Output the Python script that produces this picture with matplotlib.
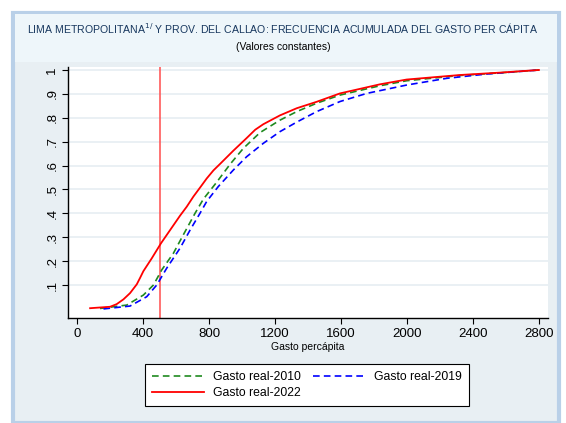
import matplotlib
matplotlib.use("Agg")
import matplotlib.pyplot as plt
from matplotlib.patches import Rectangle

plt.rcParams['font.family'] = ['Liberation Sans', 'DejaVu Sans']

# cumulative frequency curves (gasto, share)
gasto_2010 = [139, 301, 402, 463, 513, 584, 644, 715, 766, 846, 927, 1008, 1109,
              1230, 1332, 1453, 1594, 1836, 1998, 2321, 2564, 2800]
frec_2010 = [0.002, 0.016, 0.058, 0.1, 0.163, 0.233, 0.31, 0.4, 0.46, 0.53, 0.605,
             0.672, 0.738, 0.79, 0.826, 0.861, 0.895, 0.934, 0.955, 0.977, 0.988, 1.0]

gasto_2019 = [160, 321, 422, 483, 543, 624, 685, 745, 786, 856, 947, 1028, 1129,
              1230, 1332, 1453, 1594, 1756, 1998, 2240, 2482, 2800]
frec_2019 = [0.0, 0.012, 0.051, 0.1, 0.17, 0.254, 0.33, 0.4, 0.45, 0.512, 0.581,
             0.637, 0.693, 0.742, 0.782, 0.826, 0.868, 0.902, 0.937, 0.965, 0.983, 1.0]

gasto_2022 = [79, 200, 240, 281, 321, 362, 382, 402, 453, 509, 564, 624, 665, 705,
              750, 786, 827, 867, 947, 1028, 1080, 1129, 1230, 1332, 1453, 1594,
              1836, 1998, 2321, 2564, 2800]
frec_2022 = [0.003, 0.009, 0.02, 0.04, 0.066, 0.103, 0.13, 0.158, 0.212, 0.275, 0.33,
             0.39, 0.428, 0.47, 0.512, 0.546, 0.58, 0.607, 0.662, 0.715, 0.75, 0.773,
             0.81, 0.84, 0.867, 0.902, 0.94, 0.96, 0.979, 0.989, 1.0]

linea_pobreza = 503

x_ticks = [0, 400, 800, 1200, 1600, 2000, 2400, 2800]
y_ticks = [0.1, 0.2, 0.3, 0.4, 0.5, 0.6, 0.7, 0.8, 0.9, 1.0]
y_labels = ['.1', '.2', '.3', '.4', '.5', '.6', '.7', '.8', '.9', '1']

fig = plt.figure(figsize=(5.66, 4.23), dpi=100)
fig.patch.set_facecolor('white')

# outer frame + title band
fig.patches.append(Rectangle((13 / 566, 0), 546 / 566, 1 - 13 / 423,
                             transform=fig.transFigure, facecolor='#e8eff3',
                             edgecolor='#b9d0e8', linewidth=3, zorder=-2))
fig.patches.append(Rectangle((15 / 566, 1 - 62 / 423), 542 / 566, 48 / 423,
                             transform=fig.transFigure, facecolor='#eef6fa',
                             edgecolor='none', zorder=-1))

fig.text(0.5, 1 - 28 / 423,
         r'LIMA METROPOLITANA$^{1/}$ Y PROV. DEL CALLAO: FRECUENCIA ACUMULADA DEL GASTO PER CÁPITA',
         ha='center', va='center', fontsize=7.6, color='#17375e')
fig.text(0.5, 1 - 47 / 423, '(Valores constantes)', ha='center', va='center',
         fontsize=7.5)

ax = fig.add_axes([68 / 566, 1 - 318 / 423, 480 / 566, 251 / 423])
ax.set_facecolor('white')

for y in y_ticks:
    ax.axhline(y, color='#e6eef2', linewidth=1.2, zorder=1)

ax.axvline(linea_pobreza, color='#ff4d4d', linewidth=1.1, zorder=2)

l10, = ax.plot(gasto_2010, frec_2010, color='#1f8a1f', linestyle=(0, (4, 2.5)),
               linewidth=1.2, label='Gasto real-2010', zorder=3)
l19, = ax.plot(gasto_2019, frec_2019, color='#0000ff', linestyle=(0, (4, 2.5)),
               linewidth=1.2, label='Gasto real-2019', zorder=3)
l22, = ax.plot(gasto_2022, frec_2022, color='#ff0000', linewidth=1.3,
               label='Gasto real-2022', zorder=4)

ax.set_xlim(-55, 2855)
ax.set_ylim(-0.038, 1.0125)
ax.set_xticks(x_ticks)
ax.set_yticks(y_ticks)
ax.set_yticklabels(y_labels, rotation=90, va='center')
ax.tick_params(labelsize=9.5, direction='out', length=4, width=0.8, colors='black')
ax.tick_params(axis='y', pad=3)

for s in ['top', 'right']:
    ax.spines[s].set_visible(False)
for s in ['left', 'bottom']:
    ax.spines[s].set_linewidth(1.0)

ax.set_xlabel('Gasto percápita', fontsize=7.5, labelpad=1)

# column-wise fill: 2010 / 2022 in first column, 2019 in second
leg = fig.legend([l10, l22, l19],
                 ['Gasto real-2010', 'Gasto real-2022', 'Gasto real-2019'],
                 ncol=2, loc='center',
                 bbox_to_anchor=(307 / 566, 1 - 385 / 423), fontsize=8.8,
                 frameon=True, fancybox=False, edgecolor='black',
                 handlelength=4.3, handletextpad=0.7, columnspacing=1.0,
                 borderpad=0.6, labelspacing=0.35)
leg.get_frame().set_linewidth(0.8)
leg.get_frame().set_alpha(1)

fig.savefig('out.png', dpi=100, facecolor=fig.get_facecolor())
